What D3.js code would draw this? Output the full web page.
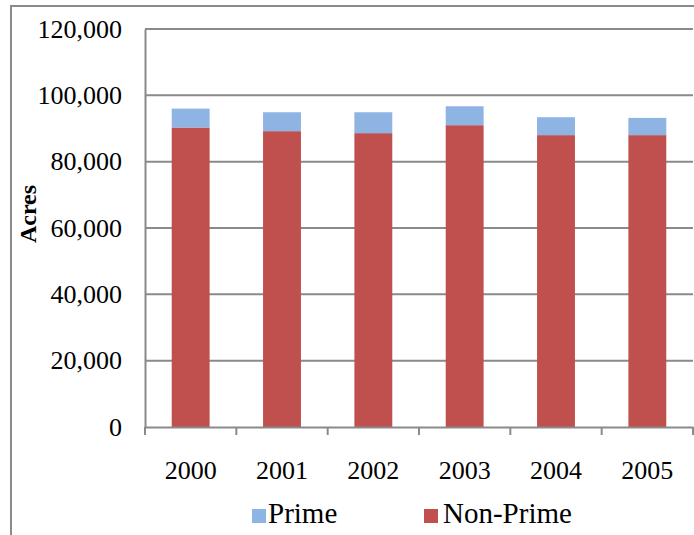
<!DOCTYPE html>
<html>
<head>
<meta charset="utf-8">
<script src="https://cdn.jsdelivr.net/npm/d3@7"></script>
<style>
  html, body { margin: 0; padding: 0; background: #fff; }
  svg { display: block; }
</style>
</head>
<body>
<svg id="chart" width="694" height="535"></svg>
<script>
const years = ["2000", "2001", "2002", "2003", "2004", "2005"];
const nonPrime = [90300, 89200, 88600, 91000, 88000, 88000];
const prime = [5700, 5700, 6300, 5700, 5400, 5200];
const yTicks = [0, 20000, 40000, 60000, 80000, 100000, 120000];
const seriesNames = ["Prime", "Non-Prime"];
const seriesColors = { "Prime": "#8EB4E3", "Non-Prime": "#C0504D" };

const FONT = "'Liberation Serif', 'Times New Roman', serif";

const svg = d3.select("#chart");
const W = 694, H = 535;
const margin = { left: 145, right: 1, top: 29, bottom: 108 };
const plotW = W - margin.left - margin.right;
const plotH = H - margin.top - margin.bottom;

// outer frame
svg.append("path")
  .attr("d", `M11,${H + 2} L11,6 L${W + 2},6`)
  .attr("fill", "none").attr("stroke", "#8a8a8a").attr("stroke-width", 2);

const g = svg.append("g").attr("transform", `translate(${margin.left},${margin.top})`);

const x = d3.scaleBand().domain(years).range([0, plotW]).paddingInner(0.585).paddingOuter(0.2925);
const xOuter = d3.scaleBand().domain(years).range([0, plotW]);
const y = d3.scaleLinear().domain([0, 120000]).range([plotH, 0]);

// gridlines
g.append("g").selectAll("line").data(yTicks.filter(d => d > 0)).join("line")
  .attr("x1", 0).attr("x2", plotW)
  .attr("y1", d => y(d)).attr("y2", d => y(d))
  .attr("stroke", "#8a8a8a").attr("stroke-width", 2);

// stacked bars
const rows = years.map((yr, i) => ({ year: yr, "Non-Prime": nonPrime[i], "Prime": prime[i] }));
const stack = d3.stack().keys(["Non-Prime", "Prime"])(rows);

g.append("g").selectAll("g").data(stack).join("g")
  .attr("fill", d => seriesColors[d.key])
  .selectAll("rect").data(d => d).join("rect")
  .attr("x", d => x(d.data.year))
  .attr("width", x.bandwidth())
  .attr("y", d => y(d[1]))
  .attr("height", d => y(d[0]) - y(d[1]));

// y axis
const yAxis = g.append("g")
  .call(d3.axisLeft(y).tickValues(yTicks).tickSize(0).tickPadding(23).tickFormat(d3.format(",")));
yAxis.attr("font-family", FONT).attr("font-size", 26);
yAxis.select(".domain").attr("stroke", "#8a8a8a").attr("stroke-width", 2);
yAxis.selectAll("text").attr("fill", "#000");

// x axis
const xAxis = g.append("g").attr("transform", `translate(0,${plotH})`)
  .call(d3.axisBottom(xOuter).tickSize(0).tickPadding(34));
xAxis.attr("font-family", FONT).attr("font-size", 26);
xAxis.select(".domain").attr("stroke", "#8a8a8a").attr("stroke-width", 2);
xAxis.selectAll("text").attr("fill", "#000");
const bounds = years.map(d => xOuter(d)).concat([plotW]);
xAxis.append("g").selectAll("line").data(bounds).join("line")
  .attr("x1", d => d).attr("x2", d => d).attr("y1", 0).attr("y2", 8)
  .attr("stroke", "#8a8a8a").attr("stroke-width", 2);

// y axis title
svg.append("text")
  .attr("transform", `translate(36,214) rotate(-90)`)
  .attr("text-anchor", "middle")
  .attr("font-family", FONT)
  .attr("font-size", 24).attr("font-weight", "bold")
  .attr("fill", "#000")
  .text("Acres");

// legend
const legendX = { "Prime": 252, "Non-Prime": 424 };
const lg = svg.append("g").selectAll("g").data(seriesNames).join("g")
  .attr("transform", d => `translate(${legendX[d]},509)`);
lg.append("rect").attr("width", 14).attr("height", 14).attr("fill", d => seriesColors[d]);
lg.append("text").attr("x", d => d === "Prime" ? 16 : 19).attr("y", 14)
  .attr("font-family", FONT).attr("fill", "#000")
  .attr("font-size", 29).text(d => d);
</script>
</body>
</html>
